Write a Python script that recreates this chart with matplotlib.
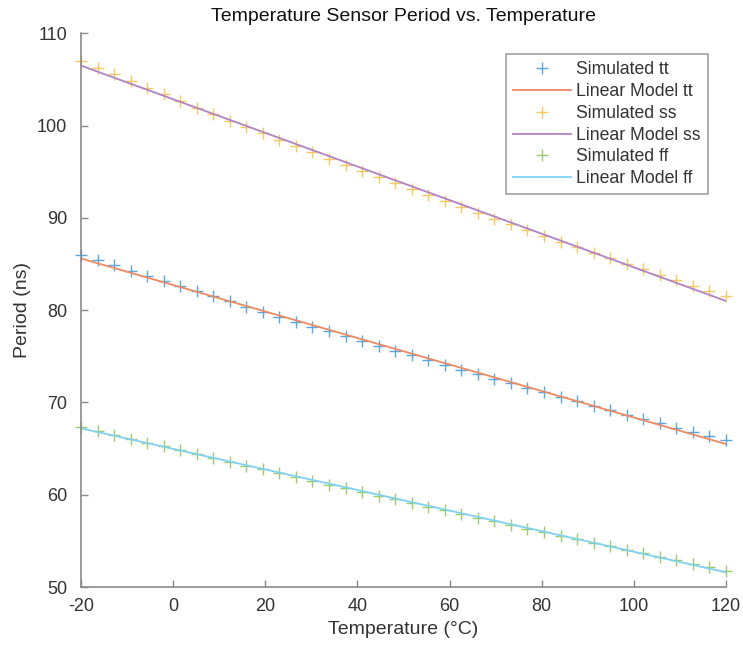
import numpy as np
import matplotlib
matplotlib.use("Agg")
import matplotlib.pyplot as plt

plt.rcParams['font.family'] = ['Liberation Sans', 'DejaVu Sans']
plt.rcParams['axes.unicode_minus'] = False

# Temperatures (°C) of the simulated points
temps = np.linspace(-20, 120, 40)

sim_tt = [86.00, 85.42, 84.85, 84.28, 83.72, 83.15, 82.60, 82.04, 81.49, 80.94,
          80.39, 79.85, 79.30, 78.77, 78.23, 77.70, 77.17, 76.65, 76.13, 75.61,
          75.09, 74.58, 74.07, 73.57, 73.06, 72.56, 72.07, 71.57, 71.08, 70.60,
          70.11, 69.63, 69.16, 68.68, 68.21, 67.74, 67.28, 66.81, 66.36, 65.90]
sim_ss = [107.00, 106.27, 105.54, 104.81, 104.09, 103.37, 102.66, 101.95, 101.25, 100.55,
          99.85, 99.16, 98.47, 97.79, 97.11, 96.43, 95.76, 95.10, 94.44, 93.78,
          93.12, 92.47, 91.83, 91.19, 90.55, 89.92, 89.29, 88.66, 88.04, 87.43,
          86.82, 86.21, 85.61, 85.01, 84.41, 83.82, 83.23, 82.65, 82.07, 81.50]
sim_ff = [67.35, 66.93, 66.50, 66.08, 65.66, 65.24, 64.82, 64.40, 63.99, 63.57,
          63.16, 62.75, 62.34, 61.93, 61.52, 61.11, 60.71, 60.30, 59.90, 59.50,
          59.10, 58.70, 58.30, 57.91, 57.51, 57.12, 56.73, 56.34, 55.95, 55.56,
          55.17, 54.79, 54.40, 54.02, 53.64, 53.26, 52.88, 52.50, 52.13, 51.75]

# Linear model endpoints
model_t = [-20, 120]
model_tt = [85.6, 65.5]
model_ss = [106.5, 81.0]
model_ff = [67.2, 51.6]

labels = ['Simulated tt', 'Linear Model tt', 'Simulated ss',
          'Linear Model ss', 'Simulated ff', 'Linear Model ff']

fig = plt.figure(figsize=(7.43, 6.53), dpi=100)
ax = fig.add_axes([0.109, 0.101, 0.868, 0.848])

ms = 9
ax.plot(temps, sim_tt, '+', color='#5aa7de', ms=ms, mew=1.0, label=labels[0], clip_on=False)
ax.plot(model_t, model_tt, '-', color='#ef8a62', lw=1.3, label=labels[1])
ax.plot(temps, sim_ss, '+', color='#f5c860', ms=ms, mew=1.0, label=labels[2], clip_on=False)
ax.plot(model_t, model_ss, '-', color='#b283c4', lw=1.3, label=labels[3])
ax.plot(temps, sim_ff, '+', color='#9ccb6e', ms=ms, mew=1.0, label=labels[4], clip_on=False)
ax.plot(model_t, model_ff, '-', color='#80d2f2', lw=1.3, label=labels[5])

ax.set_xlim(-20, 120)
ax.set_ylim(50, 110)
ax.set_xticks([-20, 0, 20, 40, 60, 80, 100, 120])
ax.set_yticks([50, 60, 70, 80, 90, 100, 110])

for s in ['top', 'right']:
    ax.spines[s].set_visible(False)
for s in ['left', 'bottom']:
    ax.spines[s].set_color('#8a8a8a')
    ax.spines[s].set_linewidth(1.2)
ax.tick_params(direction='in', length=5, width=1, color='#8a8a8a',
               labelsize=13, labelcolor='#333333')
ax.tick_params(axis='x', pad=8)
ax.tick_params(axis='y', pad=10)

ax.set_xlabel('Temperature (°C)', fontsize=14, color='#333333', labelpad=4)
ax.set_ylabel('Period (ns)', fontsize=14, color='#333333', labelpad=4)
ax.set_title('Temperature Sensor Period vs. Temperature', fontsize=14,
             color='#111111', pad=9)

leg = ax.legend(loc='upper right', bbox_to_anchor=(0.972, 0.962), fontsize=12.7,
                frameon=True, fancybox=False, edgecolor='#8a8a8a',
                handlelength=3.3, labelspacing=0.27, borderpad=0.4,
                handletextpad=0.3, borderaxespad=0)
leg.get_frame().set_linewidth(1.2)
for t in leg.get_texts():
    t.set_color('#333333')

fig.savefig('out.png', dpi=100)
